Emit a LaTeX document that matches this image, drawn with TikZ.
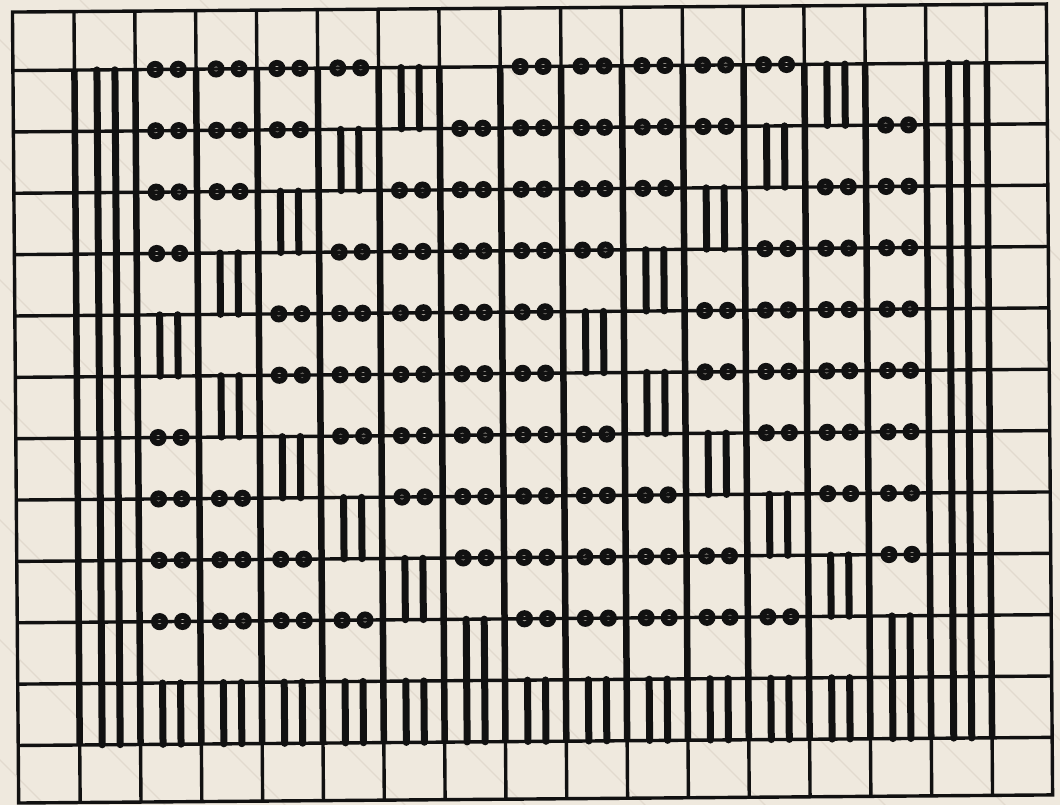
\documentclass[tikz,border=0pt]{standalone}
\usepackage{xcolor}
\usepackage{tikz}
\definecolor{ink}{HTML}{111111}
\definecolor{paper}{HTML}{EFE9DE}
\definecolor{streak}{HTML}{E2DACE}
\newcommand\vx[1]{77+60.83*(#1-1)}
\newcommand\hy[1]{66.5+61.36*(#1-1)}
\tikzset{
  gl/.style={ink,line width=3.4pt},
  hv/.style={ink,line width=6.5pt},
  br/.style={ink,line width=7pt,line cap=round},
  bd/.style={fill=ink},
  hole/.style={fill=paper}
}

\begin{document}
\begin{tikzpicture}[x=1pt,y=-1pt]
\fill[paper] (0,0) rectangle (1060,805);
\useasboundingbox (0,0) rectangle (1060,805);
\begin{scope}
\clip (0,0) rectangle (1060,805);
\foreach \s in {-760,-640,...,1000} \draw[streak,line width=1.3pt] (\s,0) -- ++(820,820);
\end{scope}
\begin{scope}[rotate around={0.45:(530,400)}]
\foreach \k in {0,7}
  \foreach \c/\rows in {2/{1,2,3,4,7,8,9,10},3/{1,2,3,8,9,10},4/{1,2,5,6,9,10},5/{1,4,5,6,7,10},6/{3,4,5,6,7,8},7/{2,3,4,5,6,7,8,9}}
    \foreach \r in \rows
      \foreach \o in {20,43} {
        \fill[bd] ({\vx{\c+\k}+\o},{\hy{\r}}) circle (8.6pt);
        \fill[hole] ({\vx{\c+\k}+\o},{\hy{\r}}) circle (2.4pt);
      }
\foreach \r in {1,...,10}
  \foreach \o in {20,43} {
    \fill[bd] ({\vx{8}+\o},{\hy{\r}}) circle (8.6pt);
    \fill[hole] ({\vx{8}+\o},{\hy{\r}}) circle (2.4pt);
  }
\foreach \i in {1,...,16} \draw[gl] ({\vx{\i}},8) -- ({\vx{\i}},799);
\foreach \j in {1,...,12} \draw[gl] (15.5,{\hy{\j}}) -- (1049.5,{\hy{\j}});
\draw[gl] (15.5,8) rectangle (1049.5,799);
\foreach \i in {1,...,16} \draw[hv] ({\vx{\i}},{\hy{1}}) -- ({\vx{\i}},{\hy{12}});
\foreach \c in {1,15}
  \foreach \o in {22.5,40.5} \draw[br] ({\vx{\c}+\o},{\hy{1}}) -- ({\vx{\c}+\o},{\hy{12}});
\foreach \k in {0,7}
  \foreach \c/\rows in {2/{5,11},3/{4,6,11},4/{3,7,11},5/{2,8,11},6/{1,9,11},7/{10,11}}
    \foreach \r in \rows
      \foreach \o in {22.5,40.5} \draw[br] ({\vx{\c+\k}+\o},{\hy{\r}}) -- ({\vx{\c+\k}+\o},{\hy{\r+1}});
\foreach \o in {22.5,40.5} \draw[br] ({\vx{8}+\o},{\hy{11}}) -- ({\vx{8}+\o},{\hy{12}});
\end{scope}
\end{tikzpicture}
\end{document}
